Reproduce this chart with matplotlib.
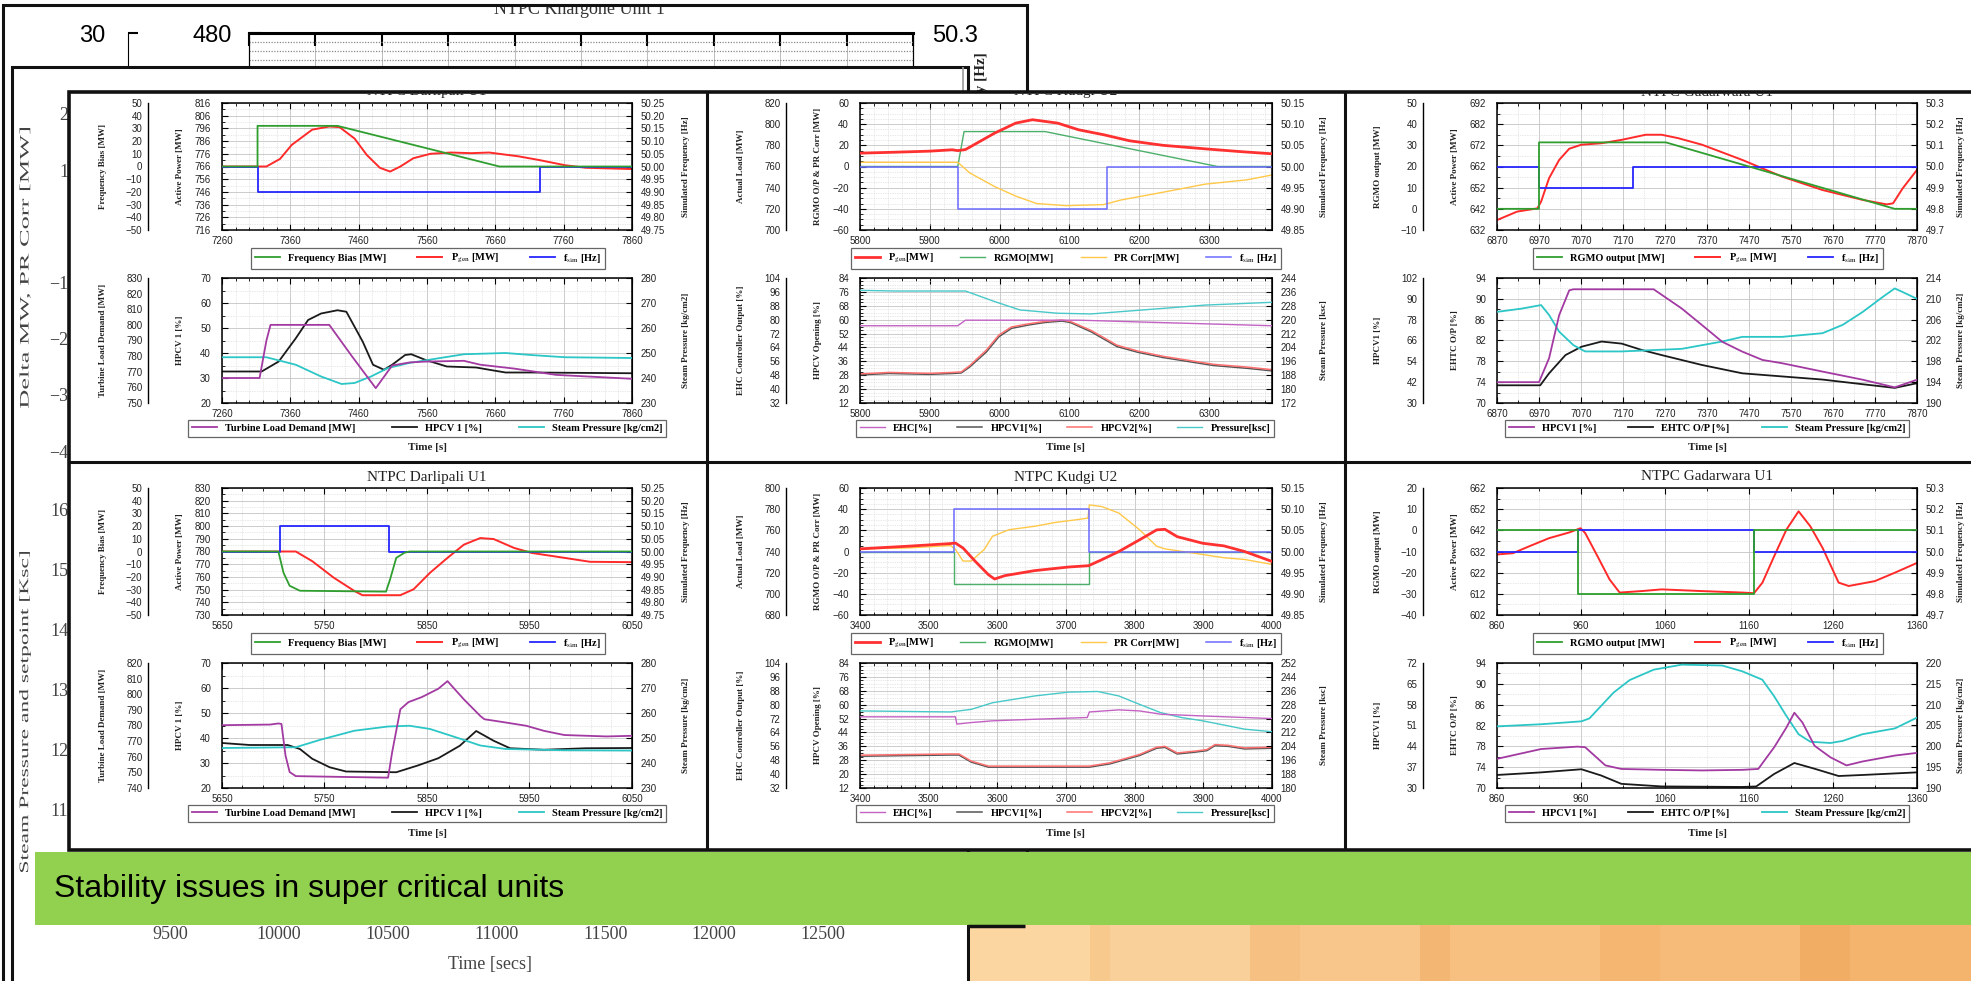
import numpy as np
import matplotlib
matplotlib.use("Agg")
import matplotlib.pyplot as plt
import matplotlib.transforms as mtransforms
from matplotlib.patches import Rectangle, PathPatch
from matplotlib.lines import Line2D
from matplotlib.textpath import TextPath
from matplotlib.font_manager import FontProperties
from matplotlib.ticker import FixedLocator, AutoMinorLocator, MultipleLocator

plt.rcParams["font.family"] = ["Liberation Sans", "DejaVu Sans"]
plt.rcParams["mathtext.fontset"] = "stix"

W, H = 1971, 981

# ---------------- NTPC Darlipali U1, event 1 ----------------
dar1_t_bias = [7260, 7312, 7312, 7429, 7666, 7860]
dar1_bias = [0, 0, 32, 32, 0, 0]
dar1_t_pgen = [7260, 7325, 7345, 7362, 7392, 7417, 7432, 7454, 7472, 7491, 7506,
               7521, 7540, 7565, 7595, 7625, 7651, 7694, 7725, 7762, 7792, 7860]
dar1_pgen = [766, 766, 772, 783, 795, 797.5, 797, 788, 775, 765, 762,
             766, 772.5, 776, 777, 776.5, 777, 774, 771, 767, 765, 764]
dar1_t_fsim = [7260, 7312, 7312, 7725, 7725, 7860]
dar1_fsim = [50.0, 50.0, 49.9, 49.9, 50.0, 50.0]
dar1_t_tld = [7260, 7315, 7325, 7331, 7417, 7450, 7485, 7509, 7535, 7558, 7614, 7638, 7688, 7749, 7860]
dar1_tld = [766, 766, 790, 800, 800, 780, 759.5, 774, 776, 776.5, 777, 774.5, 772, 768, 765.5]
dar1_t_hpcv = [7260, 7318, 7343, 7368, 7386, 7405, 7429, 7442, 7466, 7481, 7497,
               7509, 7528, 7537, 7558, 7589, 7632, 7651, 7675, 7712, 7860]
dar1_hpcv = [32.6, 32.6, 36.6, 45.9, 53.2, 55.8, 57.1, 56.5, 44.5, 35.3, 33.3,
             35.3, 39.2, 39.5, 37.2, 34.6, 34.2, 33.3, 32.2, 32.2, 31.9]
dar1_t_press = [7260, 7325, 7368, 7405, 7435, 7454, 7478, 7503, 7534, 7577, 7614, 7675, 7712, 7762, 7860]
dar1_press = [248.3, 248.3, 245.3, 240.6, 237.6, 238, 240.6, 244, 246, 247.9, 249.5, 250, 249.2, 248.3, 248]

# ---------------- NTPC Kudgi U2, event 1 ----------------
kud1_t_pgen = [5800, 5850, 5900, 5932, 5940, 5951, 5993, 6023, 6047, 6083, 6113,
               6149, 6186, 6234, 6294, 6342, 6390]
kud1_pgen = [772.6, 773.5, 774.5, 775.8, 775, 776, 791.6, 801, 804.2, 801, 794.7,
             790, 784.3, 780, 776.7, 774.2, 772]
kud1_t_rgmo = [5800, 5940, 5949, 6065, 6312, 6390]
kud1_rgmo = [0, 0, 33, 33, 0, 0]
kud1_t_prc = [5800, 5940, 5957, 5993, 6023, 6053, 6095, 6149, 6174, 6234, 6294, 6354, 6390]
kud1_prc = [4, 4, -6, -19, -28, -35, -37, -36, -31.6, -24.3, -16.7, -12.6, -8]
kud1_t_fsim = [5800, 5940, 5940, 6154, 6154, 6390]
kud1_fsim = [50.0, 50.0, 49.9, 49.9, 50.0, 50.0]
kud1_t_ehc = [5800, 5940, 5951, 6113, 6390]
kud1_ehc = [76.5, 76.5, 79.7, 79.7, 76.5]
kud1_t_hpcv = [5800, 5842, 5900, 5932, 5945, 5957, 5981, 5999, 6017, 6041, 6065,
               6089, 6101, 6131, 6168, 6198, 6234, 6270, 6306, 6354, 6390]
kud1_hpcv1 = [28.2, 29, 28.5, 29, 29.3, 32.7, 41.4, 50.2, 55, 56.9, 58.4,
              59.2, 58.4, 53, 44.5, 41.2, 38.2, 35.9, 33.6, 32, 30.5]
kud1_hpcv2 = [28.8, 29.6, 29.1, 29.6, 29.9, 33.5, 42.5, 51.2, 55.8, 57.6, 59,
              59.8, 59, 53.8, 45.3, 41.9, 38.9, 36.6, 34.3, 32.7, 31.2]
kud1_t_press = [5800, 5850, 5951, 5993, 6029, 6083, 6131, 6173, 6234, 6294, 6390]
kud1_press = [236.9, 236.5, 236.5, 230.4, 225.6, 223.7, 223.3, 224.6, 226.5, 228.4, 230]

# ---------------- NTPC Gadarwara U1, event 1 ----------------
gad1_t_rgmo = [6870, 6970, 6970, 7272, 7817, 7870]
gad1_rgmo = [0, 0, 31.4, 31.4, 0, 0]
gad1_t_pgen = [6870, 6918, 6966, 6975, 6994, 7018, 7042, 7071, 7119, 7167, 7224,
               7262, 7301, 7358, 7454, 7549, 7645, 7741, 7798, 7813, 7836, 7870]
gad1_pgen = [636.7, 640.7, 642.2, 645.4, 656.5, 665.1, 670.4, 672.3, 673, 674.6, 677,
             677, 675.4, 672.3, 665.1, 657.2, 650.9, 646.2, 644.1, 644.6, 651.7, 660.4]
gad1_t_fsim = [6870, 6969, 6969, 7193, 7193, 7870]
gad1_fsim = [50.0, 50.0, 49.9, 49.9, 50.0, 50.0]
gad1_t_hpcv = [6870, 6970, 6994, 7018, 7042, 7052, 7243, 7310, 7358, 7406, 7454,
               7502, 7549, 7645, 7741, 7817, 7870]
gad1_hpcv = [42, 42, 55.8, 80.6, 94.9, 95.5, 95.5, 84.4, 74.9, 65.3, 59.6,
             54.8, 52.9, 48.1, 43.4, 39, 43.4]
gad1_t_ehtc = [6870, 6973, 6994, 7033, 7071, 7119, 7167, 7214, 7262, 7358, 7454,
               7549, 7645, 7741, 7817, 7870]
gad1_ehtc = [73.4, 73.4, 75.7, 79.2, 80.8, 81.8, 81.4, 80.2, 79.2, 77.3, 75.7,
             75.1, 74.5, 73.6, 72.9, 73.8]
gad1_t_press = [6870, 6927, 6975, 6994, 7018, 7052, 7080, 7167, 7310, 7406, 7454,
                7549, 7645, 7693, 7741, 7789, 7817, 7836, 7870]
gad1_press = [207.5, 208.1, 208.8, 206.9, 203.7, 201.1, 199.9, 199.9, 200.4, 201.8, 202.7,
              202.7, 203.4, 205, 207.5, 210.4, 212, 211.3, 210]

# ---------------- NTPC Darlipali U1, event 2 ----------------
dar2_t_bias = [5650, 5705, 5710, 5716, 5726, 5810, 5814, 5820, 5828, 5833, 6050]
dar2_bias = [0, 0, -16.7, -27, -30.9, -31.6, -21.9, -5, -1, 0, 0]
dar2_t_pgen = [5650, 5722, 5738, 5759, 5779, 5787, 5824, 5837, 5853, 5870, 5886,
               5902, 5915, 5935, 5952, 5984, 6009, 6050]
dar2_pgen = [780, 780, 772.4, 759.4, 749, 745.6, 745.6, 750.3, 763.3, 775, 785.4,
             790.6, 789.8, 782.8, 778.9, 775, 771.9, 771.6]
dar2_t_fsim = [5650, 5707, 5707, 5813, 5813, 6050]
dar2_fsim = [50.0, 50.0, 50.1, 50.1, 50.0, 50.0]
dar2_t_tld = [5650, 5697, 5705, 5708, 5712, 5716, 5722, 5812, 5816, 5824, 5832, 5845,
              5861, 5870, 5886, 5902, 5906, 5927, 5947, 5964, 5984, 6025, 6050]
dar2_tld = [780.2, 780.6, 781.3, 781, 760.7, 750.2, 747.6, 746.6, 762.9, 790.4, 795, 798.2,
            803.5, 808.4, 796.7, 786.1, 784, 781.9, 779.8, 776.6, 773.9, 773, 773.4]
dar2_t_hpcv = [5650, 5677, 5714, 5726, 5738, 5755, 5771, 5820, 5841, 5861, 5882,
               5898, 5915, 5931, 5964, 6005, 6050]
dar2_hpcv = [38, 37.2, 37.2, 35.6, 31.7, 28.3, 26.6, 26.3, 29, 31.9, 36.9,
             42.8, 38.9, 35.9, 35.3, 35.9, 36]
dar2_t_press = [5650, 5722, 5746, 5779, 5812, 5833, 5853, 5878, 5902, 5927, 5984, 6050]
dar2_press = [246, 246.3, 249.3, 252.9, 254.6, 254.9, 253.6, 250.3, 247, 245.6, 245.1, 245]

# ---------------- NTPC Kudgi U2, event 2 ----------------
kud2_t_pgen = [3400, 3470, 3532, 3539, 3550, 3568, 3587, 3596, 3611, 3654, 3703,
               3733, 3752, 3777, 3807, 3832, 3844, 3862, 3899, 3930, 3960, 4000]
kud2_pgen = [742.5, 745, 747.5, 748, 743.3, 730.6, 718.1, 714, 717.2, 721.9, 725.3,
             726.6, 732.2, 740, 751, 760.4, 761, 754, 747.8, 745.3, 740, 730.6]
kud2_t_rgmo = [3400, 3537, 3537, 3733, 3733, 4000]
kud2_rgmo = [0, 0, -31, -31, 0, 0]
kud2_t_prc = [3400, 3470, 3532, 3539, 3550, 3562, 3581, 3593, 3617, 3654, 3685, 3715,
              3732, 3734, 3752, 3777, 3807, 3832, 3844, 3899, 3930, 3960, 4000]
kud2_prc = [2.5, 3.4, 5.6, 2, -9, -9, 2, 14.4, 20.6, 23.8, 27.5, 30,
            31.6, 44, 42.5, 36.3, 20.6, 5, 2.5, -2.8, -5.9, -7.5, -12.2]
kud2_t_fsim = [3400, 3537, 3537, 3733, 3733, 4000]
kud2_fsim = [50.0, 50.0, 50.1, 50.1, 50.0, 50.0]
kud2_t_ehc = [3400, 3539, 3541, 3562, 3593, 3654, 3731, 3734, 3777, 3807, 3838, 3899, 3960, 4000]
kud2_ehc = [73, 73, 68.8, 69.7, 70.7, 71.6, 72.6, 75.8, 77, 76.4, 74.5, 73.5, 72.6, 72]
kud2_t_hpcv = [3400, 3532, 3544, 3562, 3587, 3624, 3685, 3734, 3764, 3807, 3832,
               3844, 3862, 3887, 3905, 3917, 3936, 3960, 4000]
kud2_hpcv1 = [30.3, 31, 31, 26.9, 24, 24, 24, 24, 25.9, 30.7, 34.9,
              35.4, 31.6, 32.6, 33.5, 36.4, 36, 34.5, 34.9]
kud2_hpcv2 = [30.9, 31.6, 31.6, 27.5, 24.6, 24.6, 24.6, 24.6, 26.5, 31.3, 35.5,
              36, 32.2, 33.2, 34.1, 37, 36.6, 35.1, 35.5]
kud2_t_press = [3400, 3532, 3562, 3593, 3654, 3703, 3746, 3777, 3807, 3838, 3868, 3899, 3960, 4000]
kud2_press = [224.4, 223.8, 225.3, 229.1, 233, 235.2, 235.6, 233, 228.2, 223.4, 220.6, 218.7, 213.9, 212.4]

# ---------------- NTPC Gadarwara U1, event 2 ----------------
gad2_t_rgmo = [860, 956, 956, 1166, 1166, 1360]
gad2_rgmo = [0, 0, -30, -30, 0, 0]
gad2_t_fsim = [860, 956, 956, 1166, 1166, 1360]
gad2_fsim = [50.0, 50.0, 50.1, 50.1, 50.0, 50.0]
gad2_t_pgen = [860, 879, 898, 922, 946, 959.5, 965, 979.6, 994, 1006, 1032, 1056, 1104,
               1152, 1166, 1176, 1190, 1204.5, 1219, 1233, 1247.6, 1266.7, 1278.7, 1309.8, 1333.7, 1360]
gad2_pgen = [630.6, 631.2, 634.4, 638.3, 641, 643, 640.7, 629.8, 618.8, 612.6, 613.3, 614.1, 613.3,
             612.6, 612.3, 617.3, 629.8, 642.3, 651, 643.9, 633.7, 617.3, 615.7, 618, 622, 626.6]
gad2_t_press = [860, 912.6, 960.5, 970, 998.8, 1017.9, 1046.6, 1080, 1128, 1152,
                1175.8, 1190, 1204.5, 1219, 1233, 1257, 1271.5, 1295, 1333.7, 1360]
gad2_press = [204.8, 205.3, 206, 206.7, 212.9, 215.9, 218.4, 219.6, 219.4, 218,
              216, 212, 207.3, 202.9, 201.1, 200.8, 201.3, 202.9, 204.3, 206.9]
gad2_t_hpcv = [860, 912.6, 955.7, 965, 989, 1008, 1056, 1104, 1152, 1171,
               1190, 1204.5, 1214, 1223.6, 1238, 1257, 1276, 1295, 1333.7, 1360]
gad2_hpcv = [39.8, 43.1, 43.9, 43.7, 37.6, 36.4, 36.1, 35.9, 36.1, 36.4,
             43.7, 50.3, 55.3, 52, 44.2, 40.3, 37.6, 38.9, 40.9, 41.8]
gad2_t_ehtc = [860, 912.6, 960.5, 984, 1008, 1056, 1152, 1168.6, 1190, 1214, 1238, 1266.7, 1295, 1360]
gad2_ehtc = [72.5, 73, 73.6, 72.4, 70.8, 70.3, 70.2, 70.3, 72.7, 74.8, 73.7, 72.3, 72.5, 73]

titles = ["NTPC Darlipali U1", "NTPC Kudgi U2", "NTPC Gadarwara U1"]
banner_text = "Stability issues in super critical units"

GREEN, RED, BLUE = "#2f9e2f", "#ff2a2a", "#2626ff"
PURPLE, BLACK, CYAN = "#a23aa2", "#1a1a1a", "#2cc6c6"
K_RED, K_GREEN, K_YELLOW, K_BLUE = "#ff3030", "#4caf6a", "#ffc848", "#6b6bff"
K_PINK, K_GREY, K_RED2, K_CYAN = "#c462c4", "#555555", "#ff7070", "#48c8c8"

SERIF = "Liberation Serif"

fig = plt.figure(figsize=(W / 100, H / 100), dpi=100)
fig.patch.set_facecolor("white")


def rect_frac(x0, y0, x1, y1):
    return [x0 / W, 1 - y1 / H, (x1 - x0) / W, (y1 - y0) / H]


def add_rect(x0, y0, x1, y1, z, fc="none", ec="none", lw=0):
    r = Rectangle((x0 / W, 1 - y1 / H), (x1 - x0) / W, (y1 - y0) / H,
                  transform=fig.transFigure, fc=fc, ec=ec, lw=lw, zorder=z)
    fig.add_artist(r)


def fig_line(xs, ys, z, color="#111111", lw=2.2):
    fig.add_artist(Line2D([x / W for x in xs], [1 - y / H for y in ys],
                          transform=fig.transFigure, color=color, lw=lw,
                          zorder=z, solid_capstyle="butt"))


def ftext(x, y, s, z, **kw):
    return fig.text(x / W, 1 - y / H, s, zorder=z, **kw)


def stretched_vlabel(cx, cy, s, length, em, color, z):
    tp = TextPath((0, 0), s, size=100, prop=FontProperties(family=SERIF))
    ext = tp.get_extents()
    tr = (mtransforms.Affine2D()
          .translate(-(ext.x0 + ext.width / 2), -(ext.y0 + ext.height / 2))
          .scale(length / ext.width, em / 100)
          .rotate_deg(90)
          .translate(cx, H - cy))
    fig.add_artist(PathPatch(tr.transform_path(tp), transform=mtransforms.IdentityTransform(),
                             fc=color, ec="none", zorder=z))


def fmt_ticks(vals, fmt):
    return [fmt.format(v).replace("-", "\u2212") for v in vals]


# ---------------- background slide: first chart frame ----------------
add_rect(3, 5, 1027, 1000, 0.2, fc="white", ec="#111111", lw=2.2)
bgA = fig.add_axes(rect_frac(249, 33, 913, 300))
bgA.set_zorder(0.5)
bgA.set_xlim(0, 10)
bgA.set_xticks(range(11))
bgA.set_xticklabels([])
bgA.set_ylim(0, 30)
bgA.set_yticks([30])
bgA.set_yticklabels(["480"])
bgA.yaxis.set_minor_locator(MultipleLocator(1))
bgA.grid(True, axis="x", color="#bbbbbb", lw=0.7)
bgA.grid(True, axis="y", which="minor", color="#888888", lw=0.9, ls=(0, (1, 1.2)))
bgA.tick_params(which="major", direction="in", length=9, width=1.5, top=True, labelsize=17, pad=12)
bgA.tick_params(which="minor", length=0)
bgA.spines["top"].set_linewidth(2.2)
bgA_o = bgA.twinx()
bgA_o.set_zorder(0.55)
bgA_o.set_ylim(0, 30)
bgA_o.spines["left"].set_position(("outward", 121 * 0.72))
bgA_o.spines["left"].set_visible(True)
for sp in ("right", "top", "bottom"):
    bgA_o.spines[sp].set_visible(False)
bgA_o.yaxis.set_ticks_position("left")
bgA_o.set_yticks([30])
bgA_o.set_yticklabels(["30"])
bgA_o.tick_params(direction="in", length=7, width=1.5, labelsize=17, pad=16)
bgA_r = bgA.twinx()
bgA_r.set_zorder(0.55)
bgA_r.set_ylim(0, 30)
bgA_r.set_yticks([30])
bgA_r.set_yticklabels(["50.3"])
bgA_r.tick_params(length=0, labelsize=17, pad=14)
tA = ftext(579, 10, "NTPC Khargone Unit 1", 0.6, family=SERIF, fontsize=13,
           ha="center", va="center", color="#333333")
tA.set_clip_box(mtransforms.Bbox.from_extents(3, 0, 1027, H - 7))
tA.set_clip_on(True)
ftext(982, 52, "Simulated Frequency [Hz]", 0.6, family=SERIF, fontweight="bold",
      fontsize=11, rotation=90, ha="center", va="top", color="#222222")

# ---------------- background slide: second chart frame ----------------
add_rect(12, 67, 968, 1000, 1.0, fc="white", ec="#111111", lw=2.2)
fig_line([963, 963], [67, 100], 1.05, color="#999999", lw=1.2)
bgB1 = fig.add_axes(rect_frac(84, 114, 900, 451))
bgB2 = fig.add_axes(rect_frac(84, 490, 900, 915))
for a in (bgB1, bgB2):
    a.set_zorder(1.5)
    a.patch.set_visible(False)
    for sp in a.spines.values():
        sp.set_visible(False)
    a.tick_params(length=0, labelsize=13, labelcolor="#444444", pad=5)
bgB1.set_ylim(-40, 20)
b1_ticks = np.arange(-40, 21, 10)
bgB1.set_yticks(b1_ticks)
bgB1.set_yticklabels(fmt_ticks(b1_ticks, "{:.0f}"), family=SERIF)
bgB1.set_xticks([])
bgB2.set_ylim(92.5, 163.33)
b2_ticks = np.arange(110, 161, 10)
bgB2.set_yticks(b2_ticks)
bgB2.set_yticklabels(fmt_ticks(b2_ticks, "{:.0f}"), family=SERIF)
bgB2.set_xlim(9500 - (170 - 84) / 0.2177, 9500 + (900 - 170) / 0.2177)
b2_xticks = list(range(9500, 12501, 500))
bgB2.set_xticks(b2_xticks)
bgB2.set_xticklabels([str(v) for v in b2_xticks], family=SERIF)
bgB2.tick_params(axis="x", pad=8)
stretched_vlabel(25, 268, "Delta MW, PR Corr [MW]", 280, 13, "#444444", 1.6)
stretched_vlabel(25, 712, "Steam Pressure and setpoint [Ksc]", 320, 13, "#444444", 1.6)
ftext(490, 964, "Time [secs]", 1.6, family=SERIF, fontsize=13, color="#444444",
      ha="center", va="center")

# ---------------- grid of event plots ----------------
GX0, GY0, GY1 = 69, 92, 850
add_rect(GX0, GY0, W + 20, GY1, 2.0, fc="white", ec="#111111", lw=2.6)
fig_line([707, 707], [GY0, GY1], 3.5)
fig_line([1345, 1345], [GY0, GY1], 3.5)
fig_line([GX0, W], [462, 462], 3.5)
grid_clip = mtransforms.Bbox.from_extents(GX0, H - GY1, W, H - GY0)

AX_LEFT = [222, 860, 1497]
AX_W = [410, 412, 420]
RLAB = [50, 48, 40]
ROW_Y = [77, 462]

LEG_FONT = FontProperties(family=SERIF, weight="bold", size=7.5)
PGEN = r"P$_{\mathrm{gen}}$"
FSIM = r"f$_{\mathrm{sim}}$"


def draw_plot(xl, yt, yb, w, rlab, s, leg_top):
    ax = fig.add_axes(rect_frac(xl, yt, xl + w, yb))
    ax.set_zorder(3)
    ax_r = ax.twinx()
    ax_r.set_zorder(3.1)
    ax_o = ax.twinx()
    ax_o.set_zorder(3.2)
    axs = {"left": ax, "right": ax_r, "outer": ax_o}

    ax.set_xlim(*s["xlim"])
    ax.set_xticks(s["xticks"])
    ax.set_xticklabels([str(v) for v in s["xticks"]])
    ax.xaxis.set_minor_locator(AutoMinorLocator(s["xminor"]))
    for key, a in axs.items():
        lo, hi, step, fmt, label = s[key]
        ticks = np.arange(lo, hi + step / 2, step)
        a.set_ylim(lo, hi)
        a.set_yticks(ticks)
        a.set_yticklabels(fmt_ticks(ticks, fmt))
        a.set_ylabel(label, family=SERIF, fontweight="bold", fontsize=6.5, color="#222222")
    ax.yaxis.set_minor_locator(AutoMinorLocator(s["yminor"]))
    ax.set_axisbelow(True)
    ax.grid(True, which="major", color="#c4c4c4", lw=0.6)
    ax.grid(True, which="minor", color="#d2d2d2", lw=0.5, ls=(0, (1, 1.5)))
    for sp in ax.spines.values():
        sp.set_linewidth(1.1)

    ax.tick_params(which="both", direction="in", top=True, right=False,
                   labelsize=7, labelcolor="#222222")
    ax.tick_params(axis="y", which="major", length=4, pad=8)
    ax.tick_params(axis="x", which="major", length=4, pad=4)
    ax.tick_params(which="minor", length=2)
    ax_r.tick_params(axis="y", direction="in", length=4, pad=6, labelsize=7, labelcolor="#222222")

    ax_o.spines["left"].set_position(("outward", 74 * 0.72))
    ax_o.spines["left"].set_visible(True)
    ax_o.spines["left"].set_linewidth(1.0)
    ax_o.yaxis.set_ticks_position("left")
    ax_o.yaxis.set_label_position("left")
    ax_o.yaxis.set_minor_locator(FixedLocator(list(s["outer"][:2])))
    ax_o.tick_params(axis="y", which="major", length=0, pad=4, labelsize=7, labelcolor="#222222")
    ax_o.tick_params(axis="y", which="minor", direction="in", length=5, width=1)
    for sp in ("top", "bottom", "right"):
        ax_o.spines[sp].set_visible(False)
    for sp in ("top", "bottom", "left"):
        ax_r.spines[sp].set_visible(False)

    ax.yaxis.set_label_coords(-38 / w, 0.5)
    ax_o.yaxis.set_label_coords(-115 / w, 0.5)
    ax_r.yaxis.set_label_coords(1 + rlab / w, 0.5)

    handles = []
    for key, t, v, c, lw, lab in s["series"]:
        ln, = axs[key].plot(t, v, color=c, lw=lw, label=lab)
        handles.append(ln)
    dx, lwid = s["legend"]
    h = yb - yt
    leg = ax.legend(handles, [hh.get_label() for hh in handles], loc="upper left",
                    bbox_to_anchor=(dx / w, -(leg_top - yb) / h, lwid / w, 0),
                    mode="expand", ncol=len(handles), borderaxespad=0, prop=LEG_FONT,
                    frameon=True, fancybox=False, framealpha=1, edgecolor="#666666",
                    handlelength=2.4, handletextpad=0.8, borderpad=0.35, columnspacing=1.0)
    leg.get_frame().set_linewidth(0.9)


def draw_panel(col, row, top_spec, bot_spec):
    xl, w, r = AX_LEFT[col], AX_W[col], ROW_Y[row]
    draw_plot(xl, r + 26, r + 153, w, RLAB[col], top_spec, r + 171)
    draw_plot(xl, r + 201, r + 326, w, RLAB[col], bot_spec, r + 343)
    t = ftext(xl + w / 2, r + 15, titles[col], 3.6, family=SERIF, fontsize=11,
              ha="center", va="center", color="#222222")
    t.set_clip_box(grid_clip)
    t.set_clip_on(True)
    ftext(xl + w / 2, r + 371, "Time [s]", 3.6, family=SERIF, fontweight="bold",
          fontsize=8, ha="center", va="center", color="#222222")


# Darlipali, event 1
draw_panel(0, 0,
           dict(xlim=(7260, 7860), xticks=list(range(7260, 7861, 100)), xminor=5, yminor=2,
                outer=(-50, 50, 10, "{:.0f}", "Frequency Bias [MW]"),
                left=(716, 816, 10, "{:.0f}", "Active Power [MW]"),
                right=(49.75, 50.25, 0.05, "{:.2f}", "Simulated Frequency [Hz]"),
                series=[("outer", dar1_t_bias, dar1_bias, GREEN, 1.3, "Frequency Bias [MW]"),
                        ("left", dar1_t_pgen, dar1_pgen, RED, 1.4, PGEN + " [MW]"),
                        ("right", dar1_t_fsim, dar1_fsim, BLUE, 1.3, FSIM + " [Hz]")],
                legend=(29, 354)),
           dict(xlim=(7260, 7860), xticks=list(range(7260, 7861, 100)), xminor=5, yminor=2,
                outer=(750, 830, 10, "{:.0f}", "Turbine Load Demand [MW]"),
                left=(20, 70, 10, "{:.0f}", "HPCV 1 [%]"),
                right=(230, 280, 10, "{:.0f}", "Steam Pressure [kg/cm2]"),
                series=[("outer", dar1_t_tld, dar1_tld, PURPLE, 1.3, "Turbine Load Demand [MW]"),
                        ("left", dar1_t_hpcv, dar1_hpcv, BLACK, 1.3, "HPCV 1 [%]"),
                        ("right", dar1_t_press, dar1_press, CYAN, 1.3, "Steam Pressure [kg/cm2]")],
                legend=(-34, 478)))

# Kudgi, event 1
draw_panel(1, 0,
           dict(xlim=(5800, 6390), xticks=list(range(5800, 6301, 100)), xminor=5, yminor=4,
                outer=(700, 820, 20, "{:.0f}", "Actual Load [MW]"),
                left=(-60, 60, 20, "{:.0f}", "RGMO O/P & PR Corr [MW]"),
                right=(49.85, 50.15, 0.05, "{:.2f}", "Simulated Frequency [Hz]"),
                series=[("outer", kud1_t_pgen, kud1_pgen, K_RED, 2.0, PGEN + "[MW]"),
                        ("left", kud1_t_rgmo, kud1_rgmo, K_GREEN, 1.0, "RGMO[MW]"),
                        ("left", kud1_t_prc, kud1_prc, K_YELLOW, 1.0, "PR Corr[MW]"),
                        ("right", kud1_t_fsim, kud1_fsim, K_BLUE, 1.1, FSIM + " [Hz]")],
                legend=(-9, 430)),
           dict(xlim=(5800, 6390), xticks=list(range(5800, 6301, 100)), xminor=5, yminor=4,
                outer=(32, 104, 8, "{:.0f}", "EHC Controller Output [%]"),
                left=(12, 84, 8, "{:.0f}", "HPCV Opening [%]"),
                right=(172, 244, 8, "{:.0f}", "Steam Pressure [ksc]"),
                series=[("outer", kud1_t_ehc, kud1_ehc, K_PINK, 1.0, "EHC[%]"),
                        ("left", kud1_t_hpcv, kud1_hpcv1, K_GREY, 1.1, "HPCV1[%]"),
                        ("left", kud1_t_hpcv, kud1_hpcv2, K_RED2, 1.1, "HPCV2[%]"),
                        ("right", kud1_t_press, kud1_press, K_CYAN, 1.0, "Pressure[ksc]")],
                legend=(-4, 418)))

# Gadarwara, event 1
draw_panel(2, 0,
           dict(xlim=(6870, 7870), xticks=list(range(6870, 7871, 100)), xminor=2, yminor=2,
                outer=(-10, 50, 10, "{:.0f}", "RGMO output [MW]"),
                left=(632, 692, 10, "{:.0f}", "Active Power [MW]"),
                right=(49.7, 50.3, 0.1, "{:.1f}", "Simulated Frequency [Hz]"),
                series=[("outer", gad1_t_rgmo, gad1_rgmo, GREEN, 1.3, "RGMO output [MW]"),
                        ("left", gad1_t_pgen, gad1_pgen, RED, 1.4, PGEN + " [MW]"),
                        ("right", gad1_t_fsim, gad1_fsim, BLUE, 1.3, FSIM + " [Hz]")],
                legend=(36, 350)),
           dict(xlim=(6870, 7870), xticks=list(range(6870, 7871, 100)), xminor=2, yminor=2,
                outer=(30, 102, 12, "{:.0f}", "HPCV1 [%]"),
                left=(70, 94, 4, "{:.0f}", "EHTC O/P [%]"),
                right=(190, 214, 4, "{:.0f}", "Steam Pressure [kg/cm2]"),
                series=[("outer", gad1_t_hpcv, gad1_hpcv, PURPLE, 1.3, "HPCV1 [%]"),
                        ("left", gad1_t_ehtc, gad1_ehtc, BLACK, 1.3, "EHTC O/P [%]"),
                        ("right", gad1_t_press, gad1_press, CYAN, 1.3, "Steam Pressure [kg/cm2]")],
                legend=(8, 404)))

# Darlipali, event 2
draw_panel(0, 1,
           dict(xlim=(5650, 6050), xticks=list(range(5650, 6051, 100)), xminor=5, yminor=2,
                outer=(-50, 50, 10, "{:.0f}", "Frequency Bias [MW]"),
                left=(730, 830, 10, "{:.0f}", "Active Power [MW]"),
                right=(49.75, 50.25, 0.05, "{:.2f}", "Simulated Frequency [Hz]"),
                series=[("outer", dar2_t_bias, dar2_bias, GREEN, 1.3, "Frequency Bias [MW]"),
                        ("left", dar2_t_pgen, dar2_pgen, RED, 1.4, PGEN + " [MW]"),
                        ("right", dar2_t_fsim, dar2_fsim, BLUE, 1.3, FSIM + " [Hz]")],
                legend=(29, 354)),
           dict(xlim=(5650, 6050), xticks=list(range(5650, 6051, 100)), xminor=5, yminor=2,
                outer=(740, 820, 10, "{:.0f}", "Turbine Load Demand [MW]"),
                left=(20, 70, 10, "{:.0f}", "HPCV 1 [%]"),
                right=(230, 280, 10, "{:.0f}", "Steam Pressure [kg/cm2]"),
                series=[("outer", dar2_t_tld, dar2_tld, PURPLE, 1.3, "Turbine Load Demand [MW]"),
                        ("left", dar2_t_hpcv, dar2_hpcv, BLACK, 1.3, "HPCV 1 [%]"),
                        ("right", dar2_t_press, dar2_press, CYAN, 1.3, "Steam Pressure [kg/cm2]")],
                legend=(-34, 478)))

# Kudgi, event 2
draw_panel(1, 1,
           dict(xlim=(3400, 4000), xticks=list(range(3400, 4001, 100)), xminor=5, yminor=4,
                outer=(680, 800, 20, "{:.0f}", "Actual Load [MW]"),
                left=(-60, 60, 20, "{:.0f}", "RGMO O/P & PR Corr [MW]"),
                right=(49.85, 50.15, 0.05, "{:.2f}", "Simulated Frequency [Hz]"),
                series=[("outer", kud2_t_pgen, kud2_pgen, K_RED, 2.0, PGEN + "[MW]"),
                        ("left", kud2_t_rgmo, kud2_rgmo, K_GREEN, 1.0, "RGMO[MW]"),
                        ("left", kud2_t_prc, kud2_prc, K_YELLOW, 1.0, "PR Corr[MW]"),
                        ("right", kud2_t_fsim, kud2_fsim, K_BLUE, 1.1, FSIM + " [Hz]")],
                legend=(-9, 430)),
           dict(xlim=(3400, 4000), xticks=list(range(3400, 4001, 100)), xminor=5, yminor=4,
                outer=(32, 104, 8, "{:.0f}", "EHC Controller Output [%]"),
                left=(12, 84, 8, "{:.0f}", "HPCV Opening [%]"),
                right=(180, 252, 8, "{:.0f}", "Steam Pressure [ksc]"),
                series=[("outer", kud2_t_ehc, kud2_ehc, K_PINK, 1.0, "EHC[%]"),
                        ("left", kud2_t_hpcv, kud2_hpcv1, K_GREY, 1.1, "HPCV1[%]"),
                        ("left", kud2_t_hpcv, kud2_hpcv2, K_RED2, 1.1, "HPCV2[%]"),
                        ("right", kud2_t_press, kud2_press, K_CYAN, 1.0, "Pressure[ksc]")],
                legend=(-4, 418)))

# Gadarwara, event 2
draw_panel(2, 1,
           dict(xlim=(860, 1360), xticks=list(range(860, 1361, 100)), xminor=2, yminor=2,
                outer=(-40, 20, 10, "{:.0f}", "RGMO output [MW]"),
                left=(602, 662, 10, "{:.0f}", "Active Power [MW]"),
                right=(49.7, 50.3, 0.1, "{:.1f}", "Simulated Frequency [Hz]"),
                series=[("outer", gad2_t_rgmo, gad2_rgmo, GREEN, 1.3, "RGMO output [MW]"),
                        ("left", gad2_t_pgen, gad2_pgen, RED, 1.4, PGEN + " [MW]"),
                        ("right", gad2_t_fsim, gad2_fsim, BLUE, 1.3, FSIM + " [Hz]")],
                legend=(36, 350)),
           dict(xlim=(860, 1360), xticks=list(range(860, 1361, 100)), xminor=2, yminor=2,
                outer=(30, 72, 7, "{:.0f}", "HPCV1 [%]"),
                left=(70, 94, 4, "{:.0f}", "EHTC O/P [%]"),
                right=(190, 220, 5, "{:.0f}", "Steam Pressure [kg/cm2]"),
                series=[("outer", gad2_t_hpcv, gad2_hpcv, PURPLE, 1.3, "HPCV1 [%]"),
                        ("left", gad2_t_ehtc, gad2_ehtc, BLACK, 1.3, "EHTC O/P [%]"),
                        ("right", gad2_t_press, gad2_press, CYAN, 1.3, "Steam Pressure [kg/cm2]")],
                legend=(8, 404)))

# ---------------- title banner and bottom strip ----------------
add_rect(35, 852, W + 10, 925, 10, fc="#92d050")
ftext(54, 889, banner_text, 11, family="Liberation Sans", fontsize=23,
      ha="left", va="center", color="black")

wood = [(970, 1090, "#fbd6a0"), (1090, 1110, "#f8c98c"), (1110, 1250, "#fad09a"),
        (1250, 1300, "#f6c083"), (1300, 1420, "#f8c68b"), (1420, 1450, "#f3b673"),
        (1450, 1600, "#f7c080"), (1600, 1660, "#f4b670"), (1660, 1800, "#f6bb78"),
        (1800, 1850, "#f2ad64"), (1850, W + 5, "#f5b46d")]
for x0, x1, c in wood:
    add_rect(x0, 925, x1, H + 5, 10, fc=c)
fig_line([968, 1025], [926, 926], 10.5, lw=2.5)

fig.savefig("out.png", dpi=100)
